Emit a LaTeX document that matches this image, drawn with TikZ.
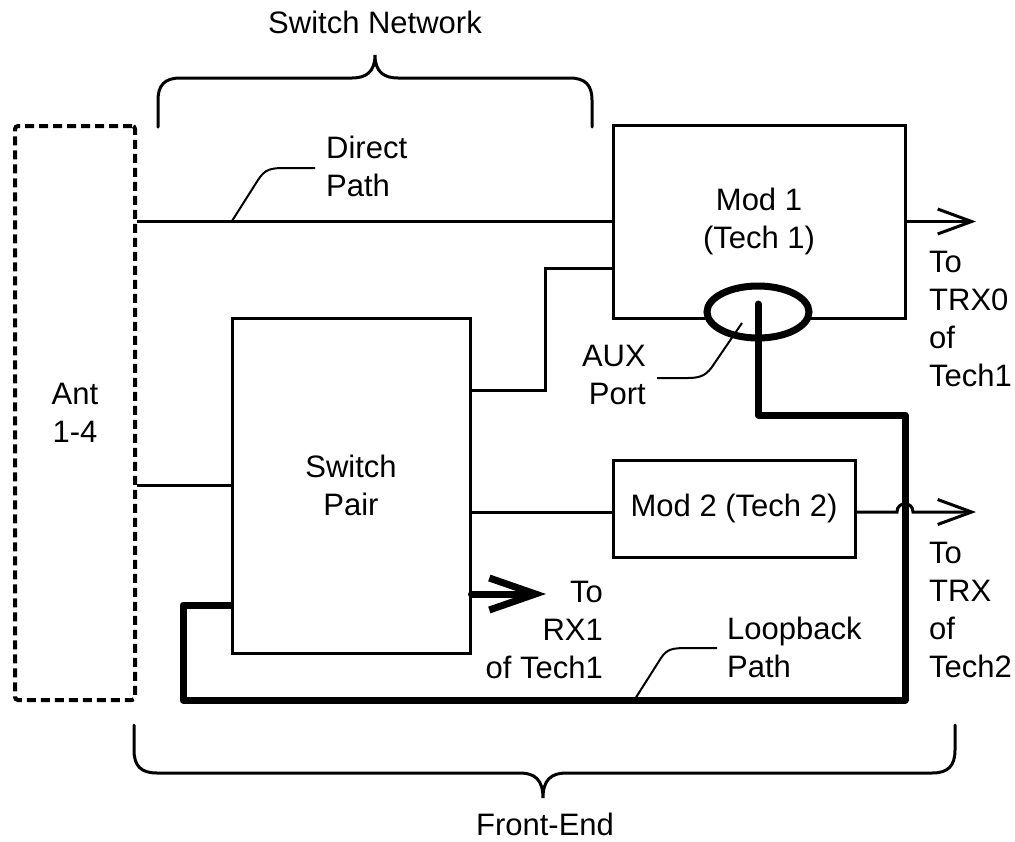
\documentclass[tikz,border=0pt]{standalone}
\usepackage{fontspec}
\setmainfont{Liberation Sans}
\usetikzlibrary{arrows.meta,shapes.geometric}
\tikzset{
  txt/.style={font=\fontsize{31}{38}\selectfont, inner sep=0pt},
  blockbox/.style={draw, line width=3pt, txt, align=center},
  wire/.style={line width=3pt},
  leader/.style={line width=2pt},
  loop/.style={line width=7pt, line join=round, line cap=round},
  outarrow/.style={wire, -{Straight Barb[length=34pt,width=25pt]}},
  bigarrow/.style={line width=7pt, line cap=round, -{Straight Barb[length=46pt,width=32pt]}},
  brace/.style={line width=3pt, line cap=round}
}
\begin{document}
\begin{tikzpicture}[x=1pt, y=-1pt]
\useasboundingbox (0,0) rectangle (1015,841);

% antenna block
\node[draw, line width=4pt, dash pattern=on 9pt off 5pt, rounded corners=3pt,
      minimum width=120pt, minimum height=574pt, txt, align=center]
      (ant) at (75,413) {Ant\\1-4};

% modules and switch pair
\node[blockbox, minimum width=292pt, minimum height=193pt] (mod1) at (759,221.5) {Mod 1\\(Tech 1)};
\node[blockbox, minimum width=238pt, minimum height=335pt] (sw) at (351,485.5) {Switch\\Pair};
\node[blockbox, minimum width=242pt, minimum height=97pt] (mod2) at (734,508.5) {Mod 2 (Tech 2)};

% auxiliary port ring
\node[draw, ellipse, fill=white, line width=7pt, inner sep=0pt,
      minimum width=102pt, minimum height=52pt] (aux) at (758,312) {};

% braces
\node[txt] (swnet) at (375,22) {Switch Network};
\draw[brace] (158,127) -- (158,100) .. controls (158,86) and (164,78) .. (180,78) -- (352,78)
  .. controls (366,78) and (375,72) .. (375,55) .. controls (375,72) and (384,78) .. (398,78)
  -- (570,78) .. controls (586,78) and (592,86) .. (592,100) -- (592,127);
\node[txt] (fe) at (545,824) {Front-End};
\draw[brace] (134,725) -- (134,750) .. controls (134,766) and (141,773) .. (157,773) -- (520,773)
  .. controls (535,773) and (543,780) .. (543,798) .. controls (543,780) and (551,773) .. (566,773)
  -- (932,773) .. controls (948,773) and (955,766) .. (955,750) -- (955,725);

% direct path
\draw[wire] (ant.east |- mod1.west) -- (mod1.west);
\coordinate (dp) at (232,221);
\draw[leader] (dp) -- (258,180) .. controls (265,169) and (271,168) .. (285,168) -- (315,168);
\node[txt, anchor=west, align=left] (dplbl) at (326,166) {Direct\\Path};

% Mod 1 output
\coordinate (o1) at (976,221.5);
\draw[outarrow] (mod1.east) -- (o1);
\node[txt, anchor=west, align=left] (trx0) at (929,319) {To\\TRX0\\of\\Tech1};

% switch pair to Mod 1
\coordinate (s1) at (sw.east |- 0,390);
\coordinate (m1) at (mod1.west |- 0,268);
\draw[wire] (s1) -- (545,390) -- (545,268) -- (m1);

% antenna to switch pair
\draw[wire] (ant.east |- sw.west) -- (sw.west);

% switch pair to Mod 2, Mod 2 output with hop
\coordinate (s2) at (sw.east |- 0,512);
\coordinate (m2i) at (mod2.west |- 0,512);
\coordinate (m2o) at (mod2.east |- 0,512);
\coordinate (o2) at (976,512);
\draw[wire] (s2) -- (m2i);
\draw[outarrow] (m2o) -- (897,512) .. controls (897,501) and (913,501) .. (913,512) -- (o2);
\node[txt, anchor=west, align=left] (trx) at (929,610) {To\\TRX\\of\\Tech2};

% loopback path
\coordinate (lbs) at (758,304);
\coordinate (lbe) at (sw.west |- 0,605);
\draw[loop] (lbs) -- (758,415) -- (905,415) -- (905,700) -- (183,700) -- (183,605) -- (lbe);
\draw[leader] (635,699) -- (661,658) .. controls (667,649) and (672,648) .. (688,648) -- (717,648);
\node[txt, anchor=west, align=left] (lblbl) at (727,647) {Loopback\\Path};

% AUX label
\draw[leader] (742,323) -- (714,364) .. controls (707,375) and (701,378) .. (688,378) -- (657,378);
\node[txt, anchor=east, align=right] (auxlbl) at (646,375) {AUX\\Port};

% RX1 output
\coordinate (s3) at (sw.east |- 0,594);
\coordinate (o3) at (546,594);
\draw[bigarrow] (s3) -- (o3);
\node[txt, anchor=east, align=right] (rx1) at (603,630) {To\\RX1\\of Tech1};
\end{tikzpicture}
\end{document}
